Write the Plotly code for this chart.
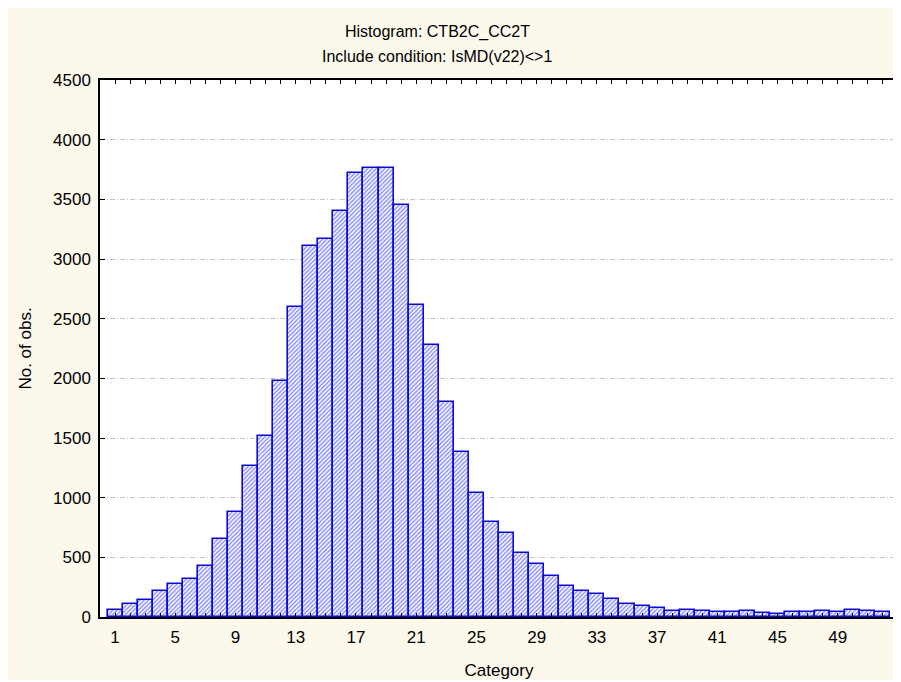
import plotly.graph_objects as go

categories = list(range(1, 53))
counts = [55, 110, 140, 220, 275, 320, 425, 650, 880, 1265,
          1520, 1978, 2600, 3110, 3170, 3400, 3720, 3760, 3765, 3450,
          2615, 2280, 1800, 1385, 1040, 800, 700, 540, 440, 340,
          260, 215, 190, 155, 112, 90, 73, 50, 61, 50,
          45, 45, 50, 34, 25, 39, 39, 47, 43, 56,
          53, 43]
tick_labels = [str(c) if (c - 1) % 4 == 0 else "" for c in categories]
y_ticks = list(range(0, 4501, 500))

FONT = "Liberation Sans, Arial, Helvetica, sans-serif"
BEIGE = "#fdf8ec"

fig = go.Figure()
fig.add_trace(go.Bar(
    x=categories, y=counts, width=1.0,
    marker=dict(
        color="white",
        line=dict(color="#0c0cd0", width=1.6),
        pattern=dict(shape="/", fgcolor="#1f1fff", bgcolor="white", size=3, solidity=0.5),
    ),
    hoverinfo="x+y",
))

fig.update_layout(
    width=893, height=672,
    margin=dict(l=92, r=1, t=72, b=63),
    paper_bgcolor=BEIGE, plot_bgcolor="white",
    font=dict(family=FONT, size=16, color="black"),
    showlegend=False, bargap=0,
)
fig.update_xaxes(
    range=[0, 53], tickmode="array", tickvals=categories, ticktext=tick_labels,
    ticks="inside", ticklen=4, tickcolor="black", tickwidth=1,
    showline=True, linecolor="black", linewidth=1.5, mirror="ticks",
    showgrid=False, zeroline=False, tickfont=dict(size=17), ticklabelstandoff=4,
    title=dict(text="Category", standoff=18, font=dict(size=17)),
)
fig.update_yaxes(
    range=[0, 4500], tickmode="array", tickvals=y_ticks,
    ticks="inside", ticklen=5, tickcolor="black", tickwidth=1,
    showline=True, linecolor="black", linewidth=1.5, mirror="ticks",
    showgrid=True, gridcolor="#c4c4c4", griddash="5px,2px,1px,2px", gridwidth=1,
    zeroline=False, tickfont=dict(size=17), ticklabelstandoff=4,
    title=dict(text="No. of obs.", standoff=17, font=dict(size=17)),
)

fig.add_annotation(text="Histogram: CTB2C_CC2T", xref="paper", yref="paper",
                   x=0.4225, y=(609 - 24) / 537, showarrow=False,
                   xanchor="center", yanchor="middle", font=dict(size=16))
fig.add_annotation(text="Include condition: IsMD(v22)&lt;&gt;1", xref="paper", yref="paper",
                   x=0.4225, y=(609 - 49) / 537, showarrow=False,
                   xanchor="center", yanchor="middle", font=dict(size=16))

fig.write_html("out.html")
